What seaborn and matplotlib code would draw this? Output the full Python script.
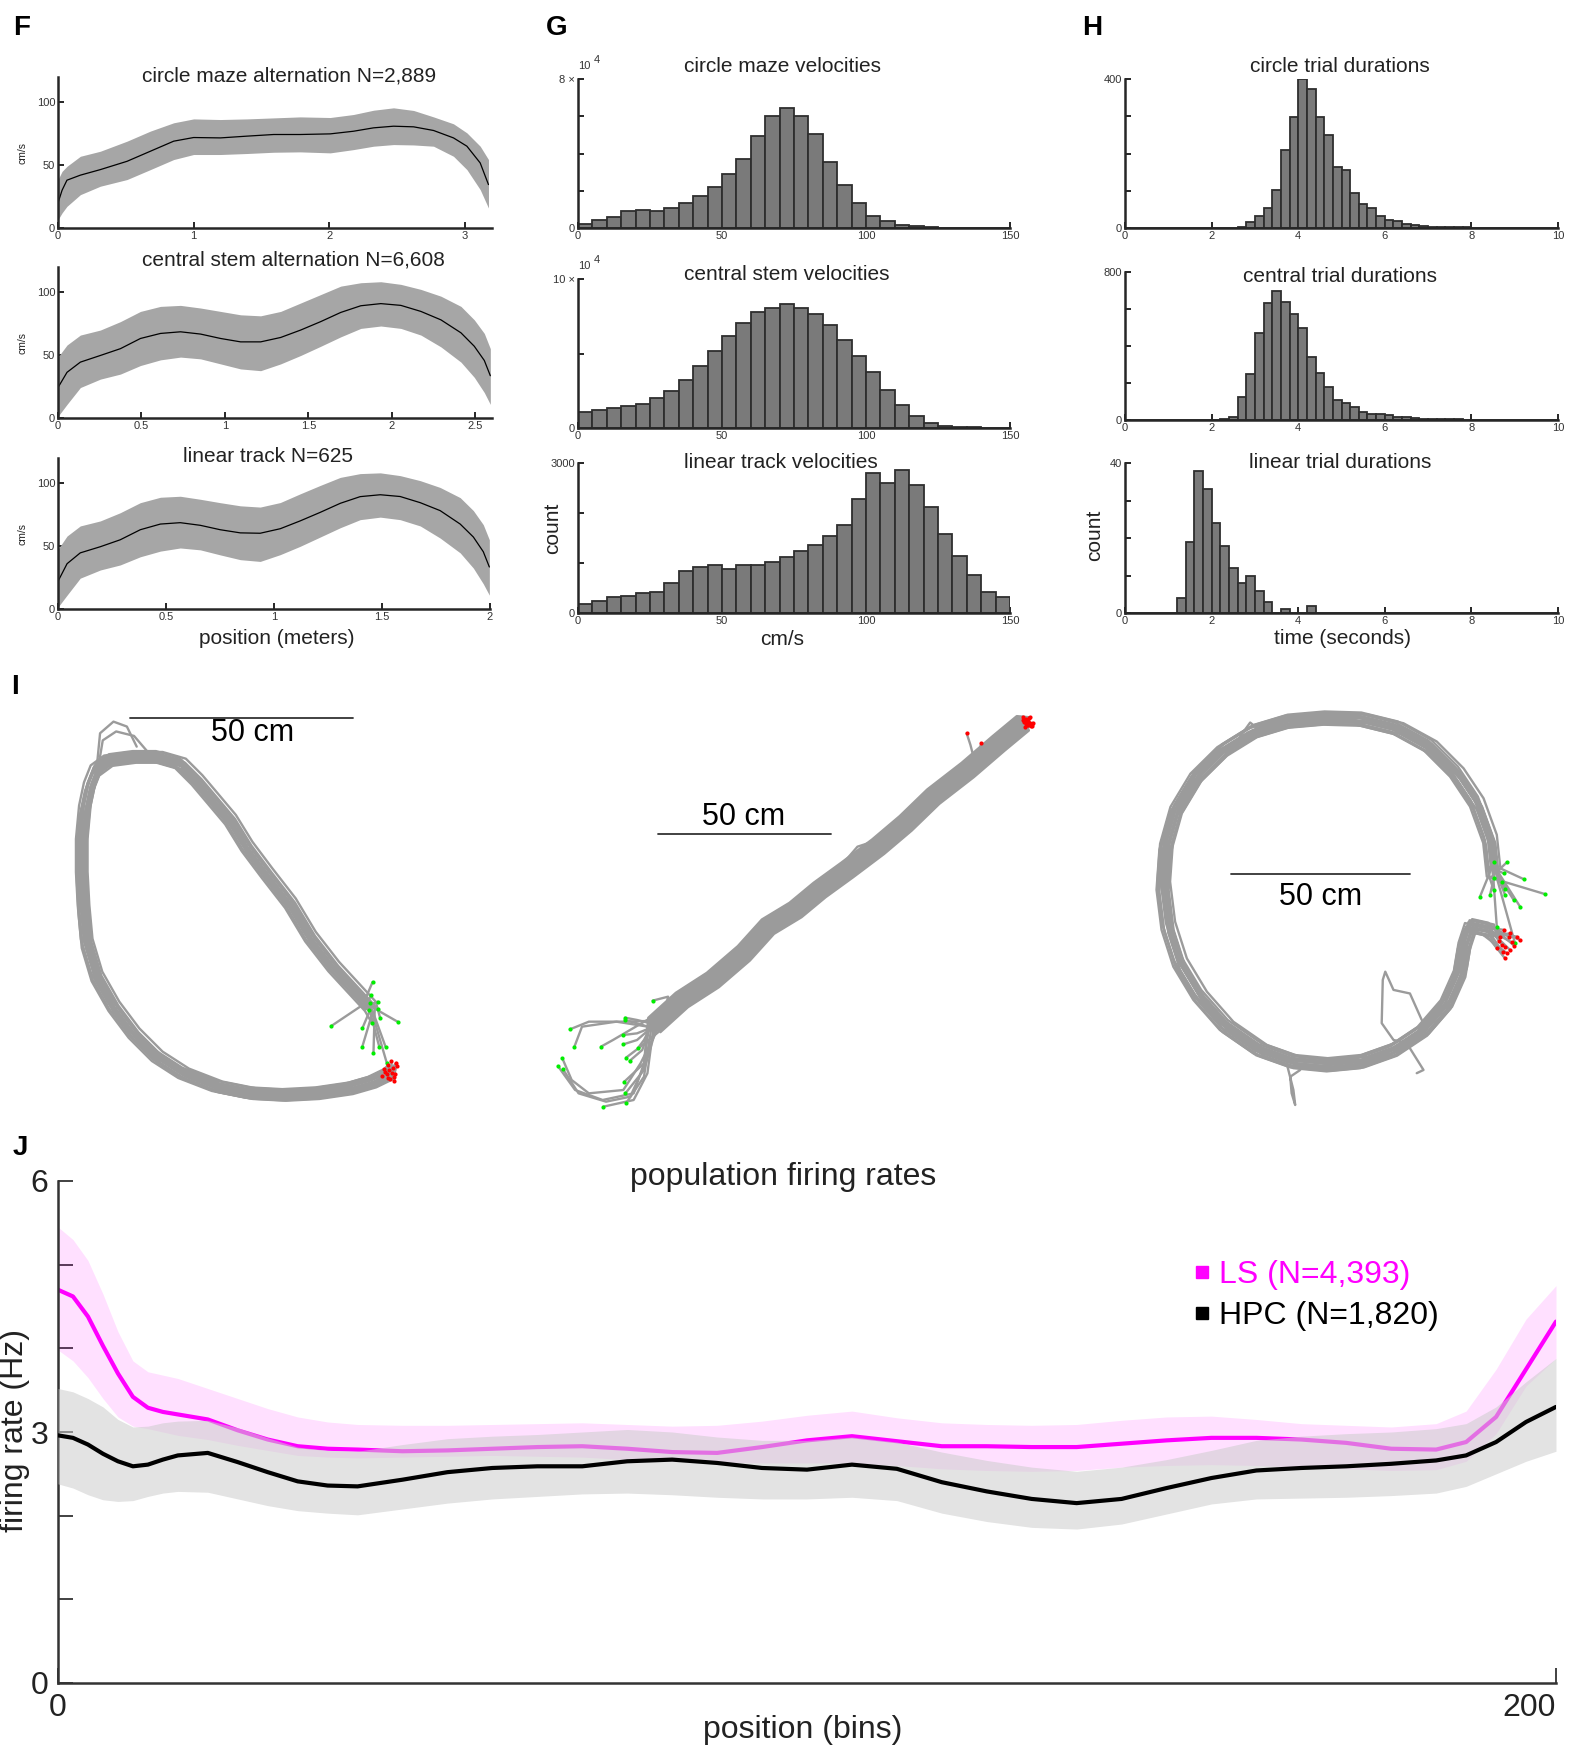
import numpy as np
import pandas as pd
import seaborn as sns
import matplotlib.pyplot as plt
from matplotlib import font_manager
from matplotlib.lines import Line2D

# ---------------- F: velocity vs position (mean and band, cm/s) ----------------
circle_pos = [0, 0.03, 0.066, 0.165, 0.312, 0.509, 0.681, 0.853, 1.0, 1.197, 1.393, 1.59, 1.786,
              2.007, 2.179, 2.327, 2.474, 2.622, 2.769, 2.916, 3.015, 3.113, 3.174]
circle_mean = [19.9, 30, 38, 42, 46.4, 53, 61, 69, 71.9, 71.6, 73, 74.3, 74.3,
               74.8, 76.9, 79.6, 80.9, 80.4, 77.5, 71.6, 65, 51.7, 34.5]
circle_upper = [38.5, 45, 49, 57, 61, 69, 77, 83.6, 86.7, 86.2, 86.7, 87.5, 88.3,
                87.8, 90.2, 93.6, 95.5, 93.4, 88.3, 82.8, 75.6, 65, 54.4]
circle_lower = [6.6, 12, 17.2, 26.5, 33.2, 38.5, 46.4, 54.4, 58.4, 58.4, 59.2, 60.2, 60.5,
                59.7, 62.3, 65, 66.3, 66, 65, 57, 46.4, 30.5, 15.9]

stem_pos = [0, 0.054, 0.134, 0.254, 0.374, 0.494, 0.614, 0.734, 0.854, 0.974, 1.094, 1.214, 1.334,
            1.454, 1.574, 1.694, 1.814, 1.934, 2.054, 2.174, 2.294, 2.414, 2.494, 2.554, 2.59]
stem_mean = [24.2, 36.3, 44.4, 49.7, 55.1, 63.2, 67.2, 68.5, 66.7, 63.2, 60.5, 60.5, 64,
             69.9, 76.6, 83.9, 89.2, 90.9, 89.5, 84.7, 78, 67.7, 57, 45.7, 33.6]
stem_upper = [48.4, 58, 65.9, 69.9, 76.6, 84.7, 88.7, 89.5, 87.4, 84.7, 82, 81.2, 84.7,
              91.4, 98.1, 104.8, 107.5, 108.3, 106.2, 102.2, 96.8, 88.7, 78, 67.2, 55.1]
stem_lower = [1.3, 10.8, 24.2, 30.9, 34.9, 41.7, 46.2, 48.4, 47, 43, 39, 37.6, 43,
              49.7, 57, 64.5, 71.2, 73.1, 71.2, 65.9, 56.5, 44.4, 32.3, 20.2, 10.8]

linear_pos = [0, 0.042, 0.103, 0.196, 0.288, 0.381, 0.474, 0.566, 0.659, 0.751, 0.844, 0.936, 1.029,
              1.121, 1.214, 1.307, 1.399, 1.492, 1.584, 1.677, 1.769, 1.862, 1.923, 1.969, 1.997]
linear_mean = [22.0, 36.0, 44.6, 49.5, 55.0, 63.0, 67.5, 68.6, 66.5, 63.0, 60.5, 60.2, 63.8,
               70.0, 76.8, 84.0, 89.3, 90.8, 89.4, 84.5, 78.2, 67.5, 57.2, 45.5, 33.4]
linear_upper = [47.5, 58, 66.0, 70.0, 76.5, 84.5, 88.8, 89.6, 87.2, 84.5, 82.0, 81.0, 84.6,
                91.5, 98.2, 104.6, 107.6, 108.2, 106.0, 102.0, 96.6, 88.5, 78.2, 67.0, 55.0]
linear_lower = [1.5, 11.0, 24.5, 31.0, 35.0, 41.5, 46.0, 48.5, 47.0, 43.0, 39.2, 37.8, 43.2,
                49.8, 57.2, 64.6, 71.0, 73.0, 71.0, 66.0, 56.4, 44.6, 32.5, 20.0, 11.0]

# ---------------- G: velocity histograms (5 cm/s bins, 0-150) ----------------
vel_circle = [2000, 4100, 5900, 9100, 9800, 9300, 10700, 13600, 17000, 22100, 28800, 36800, 49300, 60200,
              64600, 60200, 50700, 35700, 23200, 13600, 6600, 3600, 1800, 900, 500, 200, 100, 100, 100, 100]
vel_central = [10600, 11900, 13500, 14600, 16400, 20000, 24900, 31900, 41300, 51700, 61600, 70800, 77800,
               80700, 83100, 80700, 76400, 69400, 59100, 48300, 37300, 25400, 15500, 7900, 3400, 1600,
               700, 400, 300, 200]
vel_linear = [187, 233, 327, 333, 407, 420, 607, 840, 920, 967, 887, 967, 967, 1027, 1120, 1247, 1360,
              1540, 1760, 2280, 2800, 2607, 2867, 2560, 2127, 1587, 1133, 767, 413, 327]

# ---------------- H: trial duration histograms (0.2 s bins, 0-10) ----------------
dur_circle = [0, 0, 0, 0, 0, 1, 0, 0, 1, 1, 0, 1, 1, 4, 16, 33, 54, 103, 209, 299,
              400, 372, 297, 250, 165, 156, 94, 65, 54, 31, 22, 19, 12, 7, 5, 4, 3, 3, 2, 2,
              1, 1, 1, 1, 0, 1, 0, 1, 0, 1]
dur_central = [0, 0, 0, 0, 0, 0, 0, 0, 0, 0, 0, 4, 18, 122, 248, 471, 633, 696, 638, 575,
               496, 338, 252, 178, 108, 94, 72, 41, 31, 34, 27, 18, 14, 11, 7, 6, 5, 4, 3, 2,
               2, 1, 1, 1, 1, 0, 1, 0, 0, 1]
dur_linear = [0, 0, 0, 0, 0, 0, 4, 19, 38, 33, 24, 18, 12, 8, 10, 6, 3, 0, 1, 0,
              0, 2, 0, 0, 0, 0, 0, 0, 0, 0, 0, 0, 0, 0, 0, 0, 0, 0, 0, 0,
              0, 0, 0, 0, 0, 0, 0, 0, 0, 0]

# ---------------- I: example trajectories (cm) ----------------
# left maze: loop centreline, trial starts (green), trial ends (red), per-trial shifts
loop_x = [82.8, 74.6, 69.4, 64.9, 59.7, 55.2, 51.5, 47.8, 44.0, 40.3, 35.1, 29.9, 24.6, 21.6, 20.1, 19.0,
          18.3, 18.3, 18.7, 19.4, 21.6, 25.4, 29.9, 35.1, 41.0, 48.5, 56.0, 63.4, 70.9, 78.4, 83.6, 87.3]
loop_y = [26.9, 35.8, 42.5, 50.0, 56.7, 62.7, 68.7, 73.1, 77.6, 81.3, 82.8, 82.8, 82.1, 79.9, 76.1, 70.9,
          63.4, 56.0, 48.5, 41.0, 33.6, 26.9, 20.9, 15.7, 11.9, 9.0, 7.5, 7.1, 7.5, 8.6, 10.1, 11.9]
loop_start_x = [83.4, 83.0, 84.6, 82.8, 82.6, 84.7, 85.1, 83.2, 89.0, 74.1, 81.1, 81.1, 83.6, 84.9, 86.3, 86.6]
loop_start_y = [32.4, 29.5, 28.0, 27.8, 26.1, 26.3, 24.3, 23.3, 23.5, 22.5, 22.0, 17.9, 16.4, 17.9, 17.9, 14.2]
loop_end_x = [86.9, 88.7, 87.9, 86.6, 88.4, 87.3, 88.1, 85.4, 87.0, 88.9, 86.2, 87.6, 88.3, 85.9, 87.8, 86.8]
loop_end_y = [13.8, 14.3, 13.1, 11.9, 11.9, 10.6, 11.2, 11.3, 12.6, 13.6, 12.3, 14.6, 10.2, 12.8, 12.0, 11.0]
loop_dx = [-1.3, -0.9, -0.4, 0.0, 0.4, 0.9, 1.3, -1.1, -0.6, -0.2, 0.2, 0.6, 1.1, -0.5, 0.5, 0.1]
loop_dy = [1.0, -0.6, 0.3, -1.2, 0.7, -0.2, 1.1, -1.0, 0.5, 1.3, -0.4, -1.3, 0.2, 0.8, -0.7, 0.0]
loop_bump_x = [[21.6, 22.4, 25.4, 28.4, 30.6], [22.0, 23.0, 26.0, 30.0, 33.0]]
loop_bump_y = [[79.9, 88.1, 90.7, 89.6, 85.1], [80.5, 86.5, 88.5, 87.5, 84.0]]

# middle: linear track
track_x = [39.0, 47.0, 56.0, 65.0, 72.0, 80.0, 87.0, 95.0, 104.0, 112.0, 120.0, 130.0, 139.0, 146.0]
track_y = [25.5, 33.0, 39.0, 47.0, 55.0, 60.0, 66.0, 72.0, 79.0, 86.0, 94.0, 102.0, 110.0, 116.0]
track_start_x = [38.5, 30.5, 30.5, 14.5, 15.8, 23.5, 30.0, 30.0, 34.2, 30.8, 31.8, 12.3, 11.0, 12.5, 30.3, 30.6, 30.8, 24.2]
track_start_y = [32.8, 27.7, 27.0, 24.2, 19.0, 19.0, 22.5, 19.7, 18.5, 15.7, 14.7, 15.5, 13.2, 12.2, 8.5, 5.0, 2.0, 1.0]
track_vias = [[(43.0, 34.0)], [(34.0, 27.0)], [(34.0, 26.0)], [(20.0, 26.5), (30.0, 26.5)],
              [(18.0, 25.0), (28.0, 26.5)], [(27.0, 21.0)], [(34.0, 23.0)], [(34.0, 21.0)], [(36.0, 21.0)],
              [(35.0, 19.0)], [(35.5, 18.0)], [(15.0, 9.0), (20.0, 5.0), (30.0, 6.0), (35.0, 14.0)],
              [(16.0, 6.0), (24.0, 3.0), (33.0, 5.0), (36.0, 14.0)],
              [(17.0, 5.0), (25.0, 2.5), (32.0, 4.0), (36.0, 13.0)], [(36.0, 14.0)], [(36.0, 12.0)],
              [(36.0, 10.0)], [(33.0, 3.0), (37.0, 11.0)]]
track_end_x = [146.0, 147.5, 148.7, 146.5, 147.0, 148.0, 146.3, 147.8, 148.4, 146.8, 147.2, 148.9, 146.1, 147.6, 148.2, 146.9, 147.4, 148.6]
track_end_y = [118.0, 116.5, 115.8, 115.0, 117.2, 116.0, 116.4, 117.6, 115.2, 116.8, 115.6, 116.2, 117.0, 115.4, 117.8, 115.9, 116.7, 115.1]
track_dx = [1.76, -0.25, 1.26, -1.01, 0.76, -1.51, 0.25, 0.0, -0.50, 1.51, -0.76, 1.01, -1.26, 0.50, -1.76, 0.63, -0.63, -0.13]
track_dy = [-2.16, 0.31, -1.54, 1.23, -0.92, 1.85, -0.31, 0.0, 0.62, -1.85, 0.92, -1.23, 1.54, -0.62, 2.16, -0.77, 0.77, 0.15]
track_branch_x = [[131.8, 130.8, 129.7], [133.0, 133.5, 134.0], [93.0, 98.0, 104.0]]
track_branch_y = [[105.5, 109.5, 113.0], [106.5, 108.5, 110.0], [73.0, 79.0, 81.0]]
track_branch_red = [True, True, False]

# right: circle maze
circ_x = [121.3, 120.3, 116.6, 111.0, 103.5, 94.2, 84.0, 73.7, 63.4, 54.1, 45.7, 38.2, 32.6, 29.7, 28.9,
          30.3, 33.6, 39.2, 46.6, 56.0, 65.3, 74.6, 84.0, 93.3, 101.7, 108.2, 111.9, 113.2, 115.0, 119.5]
circ_y = [66.2, 75.6, 85.8, 94.2, 101.7, 106.8, 109.3, 109.6, 108.7, 105.9, 100.7, 93.3, 84.0, 73.7, 62.5,
          51.3, 41.0, 31.7, 23.3, 16.8, 13.5, 12.6, 13.5, 16.8, 22.4, 29.9, 38.2, 46.0, 51.5, 50.5]
circ_start_x = [121.3, 125.0, 124.1, 121.3, 123.6, 124.5, 121.3, 117.5, 120.3, 124.5, 126.9, 129.7, 135.7, 128.7, 122.2, 127.3]
circ_start_y = [69.3, 69.3, 66.2, 64.8, 63.9, 61.8, 61.6, 59.7, 60.2, 60.2, 58.8, 64.6, 60.4, 56.9, 51.3, 46.6]
circ_end_x = [124.1, 123.1, 125.5, 122.2, 124.5, 125.9, 127.8, 128.7, 124.5, 123.6, 126.4, 122.8, 125.0, 127.1, 123.9, 126.0]
circ_end_y = [50.4, 48.5, 48.5, 45.2, 45.7, 44.8, 48.5, 47.6, 42.4, 46.2, 46.9, 47.3, 43.9, 45.9, 44.1, 49.4]
circ_dx = [-1.7, -1.1, -0.4, 0.2, 0.8, 1.5, -1.4, -0.7, 0.0, 0.6, 1.2, 1.9, -1.9, 0.3, -0.2, 1.0]
circ_dy = [0.8, -1.5, 1.6, -0.6, 0.2, -1.0, -0.2, 1.1, -1.8, 0.6, -0.5, 1.4, -0.9, 1.9, 0.4, -1.6]
circ_extra_x = [[101.2, 97.9, 93.3, 91.0, 90.3, 90.0, 93.3, 97.0, 101.7, 99.8],
                [63.4, 65.3, 65.8, 64.8, 64.4, 67.2],
                [50.4, 53.2, 56.0]]
circ_extra_y = [[25.2, 32.6, 33.6, 38.7, 36.4, 24.3, 19.6, 18.7, 11.2, 10.3],
                [13.1, 5.6, 1.4, 4.7, 9.3, 11.2],
                [104.5, 108.4, 106.2]]

# ---------------- J: population firing rates ----------------
j_bins = [0, 2, 4, 6, 8, 10, 12, 14, 16, 20, 24, 28, 32, 36, 40, 46, 52, 58, 64, 70, 76, 82, 88, 94, 100,
          106, 112, 118, 124, 130, 136, 142, 148, 154, 160, 166, 172, 178, 184, 188, 192, 196, 200]
ls_mean = [4.70, 4.62, 4.38, 4.03, 3.70, 3.42, 3.29, 3.24, 3.21, 3.15, 3.02, 2.91, 2.83, 2.80, 2.79,
           2.77, 2.78, 2.80, 2.82, 2.83, 2.80, 2.76, 2.75, 2.82, 2.90, 2.95, 2.89, 2.83, 2.83, 2.82,
           2.82, 2.86, 2.90, 2.93, 2.93, 2.91, 2.87, 2.80, 2.79, 2.88, 3.18, 3.75, 4.32]
ls_upper = [5.45, 5.30, 5.05, 4.65, 4.20, 3.85, 3.72, 3.68, 3.64, 3.52, 3.40, 3.28, 3.18, 3.12, 3.09,
            3.08, 3.08, 3.09, 3.10, 3.11, 3.09, 3.07, 3.08, 3.13, 3.20, 3.25, 3.17, 3.11, 3.09, 3.08,
            3.09, 3.14, 3.18, 3.19, 3.15, 3.10, 3.08, 3.06, 3.10, 3.25, 3.75, 4.35, 4.75]
ls_lower = [3.98, 3.85, 3.65, 3.40, 3.18, 3.07, 3.04, 3.00, 2.96, 2.91, 2.84, 2.78, 2.72, 2.70, 2.69,
            2.70, 2.71, 2.72, 2.71, 2.70, 2.67, 2.65, 2.64, 2.63, 2.63, 2.63, 2.60, 2.56, 2.54, 2.53,
            2.54, 2.58, 2.60, 2.61, 2.60, 2.58, 2.56, 2.54, 2.55, 2.65, 2.98, 3.55, 3.88]
hpc_mean = [2.96, 2.93, 2.85, 2.74, 2.65, 2.59, 2.61, 2.67, 2.72, 2.75, 2.64, 2.52, 2.41, 2.36, 2.35,
            2.43, 2.52, 2.57, 2.59, 2.59, 2.65, 2.67, 2.63, 2.57, 2.55, 2.61, 2.56, 2.40, 2.29, 2.20,
            2.15, 2.20, 2.33, 2.45, 2.54, 2.57, 2.59, 2.62, 2.66, 2.72, 2.88, 3.12, 3.30]
hpc_upper = [3.52, 3.48, 3.40, 3.30, 3.15, 3.06, 3.07, 3.11, 3.13, 3.14, 3.05, 2.93, 2.82, 2.78, 2.77,
             2.85, 2.92, 2.95, 2.97, 3.00, 3.03, 3.00, 2.94, 2.90, 2.90, 2.94, 2.88, 2.76, 2.66, 2.58,
             2.53, 2.58, 2.67, 2.78, 2.90, 2.95, 2.98, 3.00, 3.04, 3.10, 3.30, 3.60, 3.88]
hpc_lower = [2.38, 2.33, 2.25, 2.19, 2.17, 2.18, 2.23, 2.27, 2.29, 2.28, 2.20, 2.12, 2.06, 2.03, 2.01,
             2.08, 2.15, 2.20, 2.23, 2.26, 2.27, 2.25, 2.22, 2.20, 2.20, 2.22, 2.18, 2.03, 1.93, 1.86,
             1.84, 1.90, 2.02, 2.14, 2.20, 2.21, 2.22, 2.24, 2.27, 2.35, 2.50, 2.65, 2.77]

# ---------------- style ----------------
sns.set_style("ticks")
available = {f.name for f in font_manager.fontManager.ttflist}
BASE = "Liberation Sans" if "Liberation Sans" in available else "DejaVu Sans"
NARROW = "Liberation Sans Narrow" if "Liberation Sans Narrow" in available else BASE
plt.rcParams["font.family"] = [BASE, "DejaVu Sans"]

INK = "#222222"
TRAJ = "#9b9b9b"
TRAJ_LW = 1.7
W, H = 1569, 1750
fig = plt.figure(figsize=(W / 100, H / 100), dpi=100)


def px_axes(left, top, right, bottom):
    return fig.add_axes([left / W, 1 - bottom / H, (right - left) / W, (bottom - top) / H])


def px_text(x, y, s, **kw):
    kw.setdefault("ha", "center")
    kw.setdefault("va", "center")
    kw.setdefault("color", INK)
    fig.text(x / W, 1 - y / H, s, **kw)


def label_at(ax, which, text, x, y, size, family=None):
    box = ax.get_position()
    ax_x = (x / W - box.x0) / box.width
    ax_y = (1 - y / H - box.y0) / box.height
    kw = dict(fontsize=size, color=INK)
    if family:
        kw["family"] = family
    if which == "x":
        lab = ax.set_xlabel(text, **kw)
        ax.xaxis.set_label_coords(ax_x, ax_y)
    else:
        lab = ax.set_ylabel(text, **kw)
        ax.yaxis.set_label_coords(ax_x, ax_y)
    lab.set_va("center")
    lab.set_ha("center")


def style_small(ax):
    sns.despine(ax=ax)
    for side in ("left", "bottom"):
        ax.spines[side].set_linewidth(1.8)
        ax.spines[side].set_color("#262626")
    ax.tick_params(direction="in", length=4, width=1.4, labelsize=8, colors="#262626",
                   labelcolor="#333333", pad=2)


def hist_panel(ax, centers, counts, edges):
    df = pd.DataFrame({"value": centers, "count": counts})
    sns.histplot(data=df, x="value", weights="count", bins=[float(e) for e in edges], ax=ax,
                 color="#7a7a7a", edgecolor="#2e2e2e", linewidth=1.3, alpha=1)
    ax.set_xlabel("")
    ax.set_ylabel("")


# ---------------- panel F ----------------
f_specs = [
    ((58, 77, 492, 228), circle_pos, circle_mean, circle_upper, circle_lower, 3.2, [0, 1, 2, 3],
     "circle maze alternation N=2,889", (289, 76)),
    ((58, 267, 492, 418), stem_pos, stem_mean, stem_upper, stem_lower, 2.6, [0, 0.5, 1, 1.5, 2, 2.5],
     "central stem alternation N=6,608", (293, 260)),
    ((58, 458, 490, 609), linear_pos, linear_mean, linear_upper, linear_lower, 2.0, [0, 0.5, 1, 1.5, 2],
     "linear track N=625", (268, 456)),
]
for rect, pos, mean, up, lo, xmax, xt, title, tpos in f_specs:
    ax = px_axes(*rect)
    ax.fill_between(pos, lo, up, color="#a6a6a6", linewidth=0)
    sns.lineplot(x=pos, y=mean, ax=ax, color="black", linewidth=0.9)
    ax.set_xlim(0, xmax)
    ax.set_ylim(0, 120)
    ax.set_xticks(xt)
    ax.set_xticklabels([f"{v:g}" for v in xt])
    ax.set_yticks([0, 50, 100])
    style_small(ax)
    label_at(ax, "y", "cm/s", 22, (rect[1] + rect[3]) / 2, 7.5)
    px_text(*tpos, title, fontsize=15)
    last_f = ax
label_at(last_f, "x", "position (meters)", 277, 638, 15)

# ---------------- panel G ----------------
vel_edges = np.linspace(0, 150, 31)
vel_centers = (vel_edges[:-1] + vel_edges[1:]) / 2
g_specs = [
    ((578, 79, 1010, 228), vel_circle, 8e4, [0, 2e4, 4e4, 6e4, 8e4], ["0", "", "", "", "8 \u00d7"],
     "circle maze velocities", (782, 67), True),
    ((578, 279, 1010, 428), vel_central, 1e5, [0, 5e4, 1e5], ["0", "", "10 \u00d7"],
     "central stem velocities", (787, 275), True),
    ((578, 463, 1010, 613), vel_linear, 3000, [0, 1000, 2000, 3000], ["0", "", "", "3000"],
     "linear track velocities", (781, 462), False),
]
for rect, counts, ymax, yt, ytl, title, tpos, has_exp in g_specs:
    ax = px_axes(*rect)
    hist_panel(ax, vel_centers, counts, vel_edges)
    ax.set_xlim(0, 150)
    ax.set_ylim(0, ymax)
    ax.set_xticks([0, 50, 100, 150])
    ax.set_yticks(yt)
    ax.set_yticklabels(ytl)
    style_small(ax)
    px_text(*tpos, title, fontsize=15)
    if has_exp:
        top = rect[1]
        px_text(584, top - 13, "10", fontsize=8, color="#333333")
        px_text(597, top - 19, "4", fontsize=8, color="#333333")
    last_g = ax
label_at(last_g, "y", "count", 553, 528, 15)
label_at(last_g, "x", "cm/s", 782, 640, 15)

# ---------------- panel H ----------------
dur_edges = np.linspace(0, 10, 51)
dur_centers = (dur_edges[:-1] + dur_edges[1:]) / 2
h_specs = [
    ((1125, 79, 1558, 228), dur_circle, 400, "circle trial durations", (1340, 67)),
    ((1125, 272, 1558, 420), dur_central, 800, "central trial durations", (1340, 276)),
    ((1125, 463, 1558, 613), dur_linear, 40, "linear trial durations", (1340, 463)),
]
for rect, counts, ymax, title, tpos in h_specs:
    ax = px_axes(*rect)
    hist_panel(ax, dur_centers, counts, dur_edges)
    ax.set_xlim(0, 10)
    ax.set_ylim(0, ymax)
    ax.set_xticks([0, 2, 4, 6, 8, 10])
    yt = [ymax * k / 4 for k in range(5)]
    ax.set_yticks(yt)
    ax.set_yticklabels(["0", "", "", "", f"{ymax:g}"])
    style_small(ax)
    px_text(*tpos, title, fontsize=15)
    last_h = ax
label_at(last_h, "y", "count", 1095, 535, 15)
label_at(last_h, "x", "time (seconds)", 1343, 638, 15)


# ---------------- panel I ----------------
def draw_trials(ax, px, py, sx, sy, ex, ey, dx, dy, vias=None):
    for i in range(len(sx)):
        xs, ys = [sx[i]], [sy[i]]
        if vias is not None:
            for vx, vy in vias[i]:
                xs.append(vx)
                ys.append(vy)
        xs += [p + dx[i] for p in px]
        ys += [p + dy[i] for p in py]
        xs.append(ex[i])
        ys.append(ey[i])
        sns.lineplot(x=xs, y=ys, sort=False, estimator=None, ax=ax, color=TRAJ,
                     linewidth=TRAJ_LW, solid_joinstyle="round", solid_capstyle="round")
    ax.plot(sx, sy, "o", color="#00ee00", markersize=3, markeredgewidth=0, zorder=5)
    ax.plot(ex, ey, "o", color="#ff0000", markersize=3, markeredgewidth=0, zorder=5)


def scale_bar(ax, x0, y0, tx, ty):
    ax.plot([x0, x0 + 50], [y0, y0], color="#333333", linewidth=1.3)
    ax.text(tx, ty, "50 cm", fontsize=22, ha="center", va="center", color="black")


ax = px_axes(0, 660, 520, 1110)
draw_trials(ax, loop_x, loop_y, loop_start_x, loop_start_y, loop_end_x, loop_end_y, loop_dx, loop_dy)
for bx, by in zip(loop_bump_x, loop_bump_y):
    sns.lineplot(x=bx, y=by, sort=False, estimator=None, ax=ax, color=TRAJ, linewidth=TRAJ_LW)
scale_bar(ax, 29.1, 91.6, 56.5, 88.1)
ax.set_xlim(0, 116.4)
ax.set_ylim(3.73, 104.5)
ax.axis("off")

ax = px_axes(520, 660, 1060, 1110)
draw_trials(ax, track_x, track_y, track_start_x, track_start_y, track_end_x, track_end_y,
            track_dx, track_dy, vias=track_vias)
for bx, by, red in zip(track_branch_x, track_branch_y, track_branch_red):
    sns.lineplot(x=bx, y=by, sort=False, estimator=None, ax=ax, color=TRAJ, linewidth=TRAJ_LW)
    if red:
        ax.plot(bx[-1], by[-1], "o", color="#ff0000", markersize=3, markeredgewidth=0, zorder=5)
scale_bar(ax, 40.2, 82.8, 64.8, 88.0)
ax.set_xlim(0, 156.8)
ax.set_ylim(0, 135)
ax.axis("off")

ax = px_axes(1060, 660, 1569, 1110)
draw_trials(ax, circ_x, circ_y, circ_start_x, circ_start_y, circ_end_x, circ_end_y, circ_dx, circ_dy)
for bx, by in zip(circ_extra_x, circ_extra_y):
    sns.lineplot(x=bx, y=by, sort=False, estimator=None, ax=ax, color=TRAJ, linewidth=TRAJ_LW)
scale_bar(ax, 47.8, 66.0, 72.8, 59.5)
ax.set_xlim(0, 142.4)
ax.set_ylim(0, 125.9)
ax.axis("off")

# ---------------- panel J ----------------
ax = px_axes(58, 1181, 1556, 1683)
ax.fill_between(j_bins, ls_lower, ls_upper, color="#ff00ff", alpha=0.12, linewidth=0, zorder=1)
sns.lineplot(x=j_bins, y=ls_mean, ax=ax, color="#ff00ff", linewidth=3, zorder=2,
             solid_joinstyle="round")
ax.fill_between(j_bins, hpc_lower, hpc_upper, color="#cccccc", alpha=0.55, linewidth=0, zorder=3)
sns.lineplot(x=j_bins, y=hpc_mean, ax=ax, color="black", linewidth=3, zorder=4,
             solid_joinstyle="round")
ax.set_xlim(0, 200)
ax.set_ylim(0, 6)
ax.set_xticks([0, 200])
ax.set_yticks([0, 1, 2, 3, 4, 5, 6])
ax.set_yticklabels(["0", "", "", "3", "", "", "6"])
sns.despine(ax=ax)
for side in ("left", "bottom"):
    ax.spines[side].set_linewidth(1.8)
    ax.spines[side].set_color("#333333")
ax.tick_params(direction="in", length=11, width=1.3, colors="#333333", labelcolor="#222222",
               labelsize=23, pad=7)
for t in ax.get_xticklabels() + ax.get_yticklabels():
    t.set_family(NARROW)
ax.get_xticklabels()[-1].set_ha("right")
label_at(ax, "y", "firing rate (Hz)", 15, 1430, 23, NARROW)
label_at(ax, "x", "position (bins)", 803, 1730, 23, NARROW)
px_text(783, 1177, "population firing rates", fontsize=23, family=NARROW)
handles = [Line2D([], [], marker="s", color="#ff00ff", linestyle="none", markersize=8),
           Line2D([], [], marker="s", color="black", linestyle="none", markersize=8)]
ax.legend(handles, ["LS (N=4,393)", "HPC (N=1,820)"], loc="upper left",
          bbox_to_anchor=(1192 / W, 1 - 1260 / H), bbox_transform=fig.transFigure,
          frameon=False, labelcolor=["#ff00ff", "black"], handlelength=0.6,
          handletextpad=0.25, labelspacing=0.35, borderpad=0, borderaxespad=0,
          prop={"family": NARROW, "size": 23})

# ---------------- panel letters ----------------
for letter, x, y in [("F", 22, 28), ("G", 557, 28), ("H", 1092, 28), ("I", 15, 687), ("J", 20, 1148)]:
    px_text(x, y, letter, fontsize=20, fontweight="bold", color="black")

fig.savefig("out.png", dpi=100)
